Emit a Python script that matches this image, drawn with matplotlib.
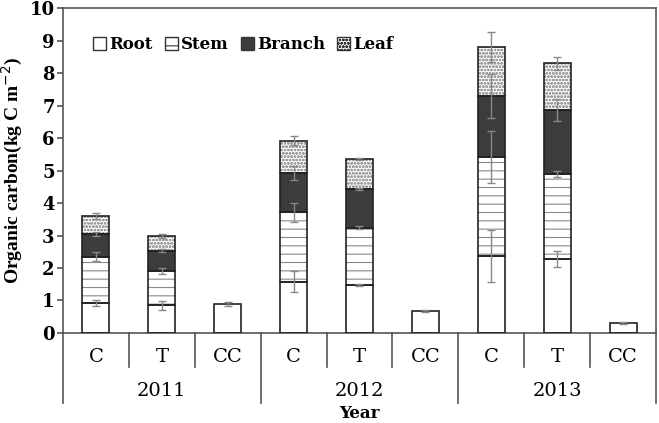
import numpy as np
import matplotlib
matplotlib.use("Agg")
import matplotlib.pyplot as plt
import matplotlib.transforms as mtransforms
from matplotlib.patches import Patch

# data
years = ["2011", "2012", "2013"]
treatments = ["C", "T", "CC"]
root = [0.92, 0.85, 0.88, 1.58, 1.48, 0.68, 2.37, 2.28, 0.30]
stem = [1.43, 1.05, 0, 2.13, 1.76, 0, 3.05, 2.61, 0]
branch = [0.70, 0.63, 0, 1.22, 1.19, 0, 1.87, 1.97, 0]
leaf = [0.55, 0.46, 0, 0.99, 0.91, 0, 1.50, 1.44, 0]
root_err = [0.10, 0.13, 0.06, 0.32, 0.03, 0.04, 0.80, 0.24, 0.03]
stem_err = [0.15, 0.10, 0, 0.30, 0.04, 0, 0.80, 0.08, 0]
branch_err = [0.05, 0.05, 0, 0.22, 0.04, 0, 0.68, 0.33, 0]
leaf_err = [0.10, 0.07, 0, 0.15, 0.03, 0, 0.46, 0.20, 0]

serif = "DejaVu Serif"
plt.rcParams["hatch.linewidth"] = 0.8

fig = plt.figure(figsize=(6.59, 4.23), dpi=100)
ax = fig.add_axes([0.0956, 0.2128, 0.8998, 0.7682])

x = np.arange(len(root))
w = 0.41
parts = [root, stem, branch, leaf]
errs = [root_err, stem_err, branch_err, leaf_err]
fills = ["white", "white", "#3c3c3c", "white"]
hatches = [None, "--", None, "ooooo"]
hcols = ["none", "#8a8a8a", "none", "#a0a0a0"]
names = ["Root", "Stem", "Branch", "Leaf"]

bottom = np.zeros(len(root))
for vals, err, fc, h, hc in zip(parts, errs, fills, hatches, hcols):
    vals = np.array(vals)
    mask = vals > 0
    ax.bar(x[mask], vals[mask], w, bottom=bottom[mask], color=fc,
           hatch=h, edgecolor=hc, linewidth=0, zorder=2)
    ax.bar(x[mask], vals[mask], w, bottom=bottom[mask], fill=False,
           edgecolor="#222222", linewidth=1.2, zorder=3)
    top = bottom + vals
    ax.errorbar(x[mask], top[mask], yerr=np.array(err)[mask], fmt="none",
                ecolor="#888888", elinewidth=1, capsize=3, capthick=1, zorder=4)
    bottom = top

ax.set_xlim(-0.5, len(root) - 0.5)
ax.set_ylim(0, 10)
ax.set_yticks(range(0, 11))
ax.set_xticks([])
for s in ax.spines.values():
    s.set_color("#555555")
    s.set_linewidth(1.2)
ax.tick_params(axis="y", direction="out", length=4, width=1.2, color="#555555",
               pad=2)
for lab in ax.get_yticklabels():
    lab.set_fontfamily(serif)
    lab.set_fontweight("bold")
    lab.set_fontsize(13)

# grouped category axis
trans = mtransforms.blended_transform_factory(ax.transData, ax.transAxes)
for i in range(len(root)):
    ax.text(i, -0.075, treatments[i % 3], transform=trans, ha="center",
            va="center", fontsize=14, family=serif)
for k in range(len(years)):
    ax.text(3 * k + 1, -0.18, years[k], transform=trans, ha="center",
            va="center", fontsize=14, family=serif)
for b in np.arange(-0.5, len(root), 1):
    depth = -0.215 if (b + 0.5) % 3 == 0 else -0.105
    ax.plot([b, b], [0, depth], transform=trans, color="#555555", lw=1.2,
            clip_on=False)

ax.text(0.5, -0.247, "Year", transform=ax.transAxes, ha="center", va="center",
        fontsize=12, family=serif, fontweight="bold")
ax.set_ylabel("Organic carbon(kg C m$^{-2}$)", fontsize=14,
              family="Liberation Serif", fontweight="bold", labelpad=3)

handles = [Patch(facecolor=fc, hatch=h, edgecolor="#333333")
           for fc, h in zip(fills, hatches)]
ax.legend(handles, names, ncol=4, loc="upper left", bbox_to_anchor=(0.025, 0.96),
          frameon=False, handlelength=0.8, handleheight=0.8, handletextpad=0.2,
          columnspacing=0.7, prop={"family": serif, "weight": "bold", "size": 12})

fig.savefig("out.png", dpi=100)
